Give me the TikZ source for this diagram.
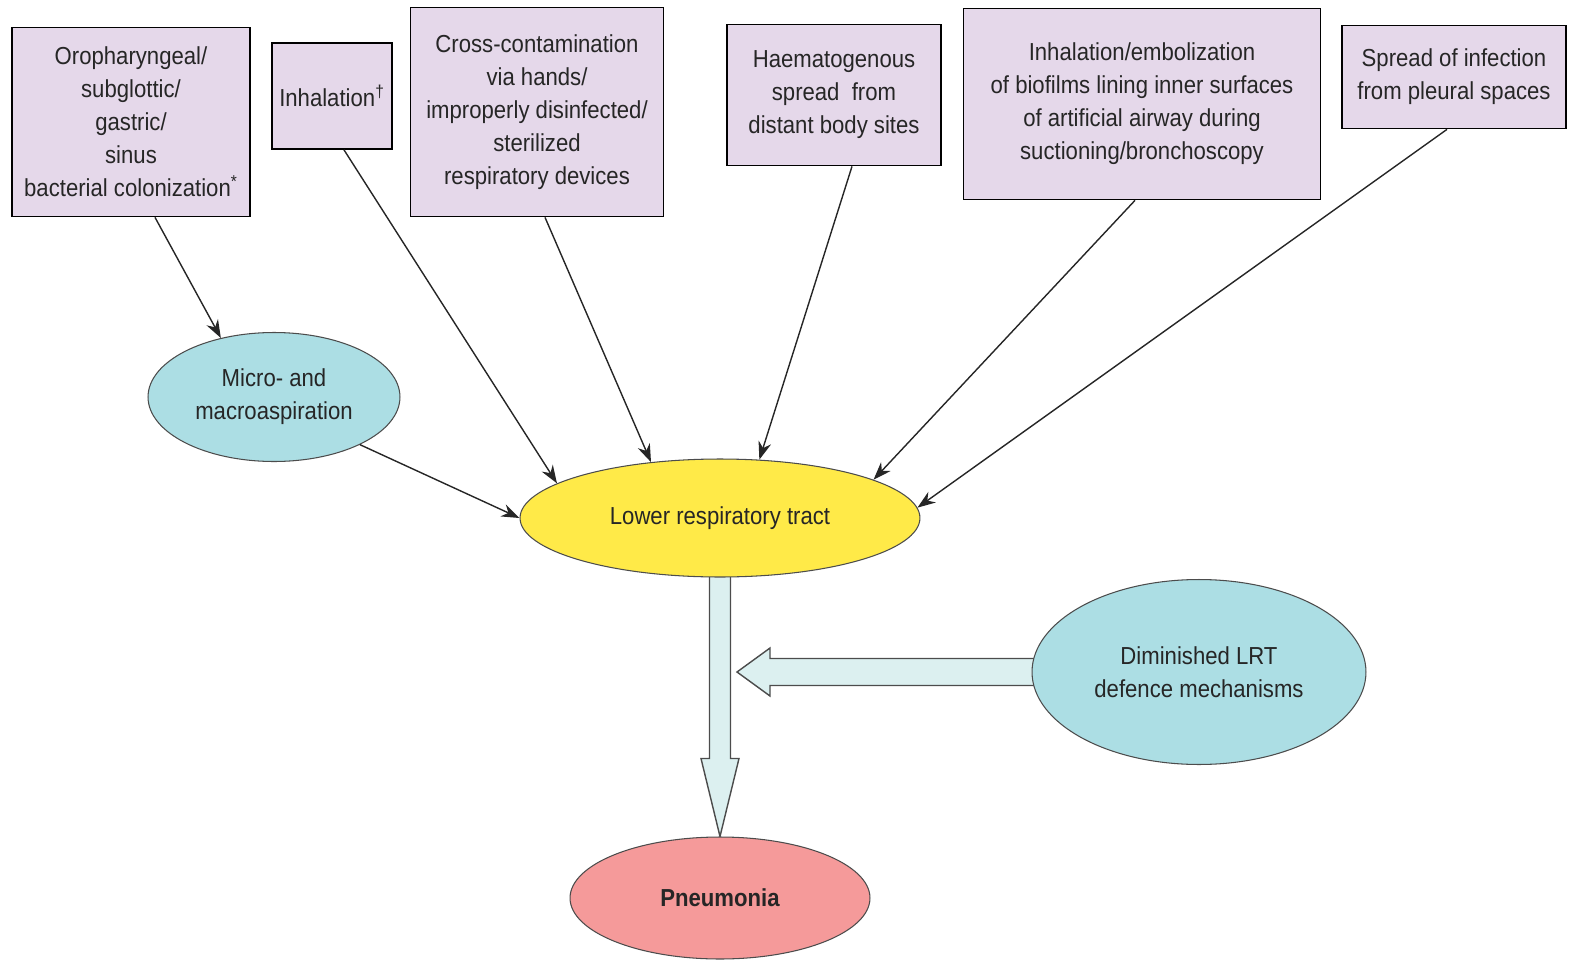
\documentclass[tikz,border=0pt]{standalone}
\usepackage{fontspec}
\setmainfont{Liberation Sans}[FakeStretch=0.9]
\usepackage{tikz}
\usetikzlibrary{positioning}
\usetikzlibrary{calc}
\usetikzlibrary{shapes.geometric}
\usetikzlibrary{arrows.meta}
\usetikzlibrary{backgrounds}
\usepackage{xcolor}

\definecolor{causefill}{RGB}{229,216,234}
\definecolor{aspfill}{RGB}{172,222,228}
\definecolor{lrtfill}{RGB}{255,234,72}
\definecolor{pneufill}{RGB}{245,154,154}
\definecolor{shaftfill}{RGB}{220,240,240}

\tikzset{
	cause/.style = {draw, line width=1pt, fill=causefill, inner sep=0pt},
	blob/.style = {ellipse, draw=black!70, line width=0.6pt, inner sep=0pt},
	feed/.style = {-{Stealth[length=0.36cm, width=0.26cm]}, line width=0.8pt, black!85},
	fatarrow/.style = {draw=black!70, line width=0.8pt, fill=shaftfill, line join=miter}
}

\begin{document}
\begin{tikzpicture}[x=0.02cm, y=-0.02cm, every node/.style={font=\fontsize{14}{18.8}\selectfont, text=black!85, align=center}]
		\useasboundingbox (0,0) rectangle (1573,960);
		% sources
		\node[cause, minimum width=4.76cm, minimum height=3.78cm] (orop) at (131,122) {Oropharyngeal/\\subglottic/\\gastric/\\sinus\\bacterial colonization\textsuperscript{*}};
		\node[cause, minimum width=2.4cm, minimum height=2.12cm] (inh) at (332,96) {Inhalation\textsuperscript{\textdagger}};
		\node[cause, minimum width=5.06cm, minimum height=4.18cm] (cross) at (537,112) {Cross-contamination\\via hands/\\improperly disinfected/\\sterilized\\respiratory devices};
		\node[cause, minimum width=4.28cm, minimum height=2.82cm] (haem) at (834,95) {Haematogenous\\spread~ from\\distant body sites};
		\node[cause, minimum width=7.14cm, minimum height=3.82cm] (emb) at (1142,104) {Inhalation/embolization\\of biofilms lining inner surfaces\\of artificial airway during\\suctioning/bronchoscopy};
		\node[cause, minimum width=4.48cm, minimum height=2.06cm] (pleura) at (1454,77) {Spread of infection\\from pleural spaces};
		% ellipses
		\node[blob, fill=aspfill, minimum width=5.04cm, minimum height=2.58cm] (micro) at (274,397) {Micro- and\\macroaspiration};
		\node[blob, fill=lrtfill, minimum width=8cm, minimum height=2.36cm] (lrt) at (720,518) {Lower respiratory tract};
		\node[blob, fill=aspfill, minimum width=6.68cm, minimum height=3.7cm] (dim) at (1199,672) {Diminished LRT\\defence mechanisms};
		\node[blob, fill=pneufill, minimum width=6cm, minimum height=2.44cm] (pneu) at (720,898) {\textbf{Pneumonia}};
		\coordinate (tip) at ($(lrt.south |- dim.west)+(17,0)$);
		% thin arrows
		\draw[feed] ($(orop.south)+(24,0)$) -- (micro.132);
		\draw[feed] ($(inh.south)+(12,0)$) -- (lrt.168);
		\draw[feed] ($(cross.south)+(8,0)$) -- (lrt.141);
		\draw[feed] ($(haem.south)+(18,0)$) -- (lrt.56);
		\draw[feed] ($(emb.south)+(-7,0)$) -- (lrt.14);
		\draw[feed] ($(pleura.south)+(-7,0)$) -- (lrt.3);
		\draw[feed] (micro.331) -- (lrt.west);
		% block arrows
		\begin{scope}[on background layer]
			\draw[fatarrow] ($(lrt.south)+(-10.5,-20)$) -- ($(pneu.north)+(-10.5,-78)$) -- ($(pneu.north)+(-19,-78)$) -- (pneu.north) -- ($(pneu.north)+(19,-78)$) -- ($(pneu.north)+(10.5,-78)$) -- ($(lrt.south)+(10.5,-20)$) -- cycle;
			\draw[fatarrow] ($(dim.west)+(20,-13.5)$) -- ($(tip)+(33,-13.5)$) -- ($(tip)+(33,-24)$) -- (tip) -- ($(tip)+(33,24)$) -- ($(tip)+(33,13.5)$) -- ($(dim.west)+(20,13.5)$) -- cycle;
		\end{scope}
	\end{tikzpicture}
\end{document}
